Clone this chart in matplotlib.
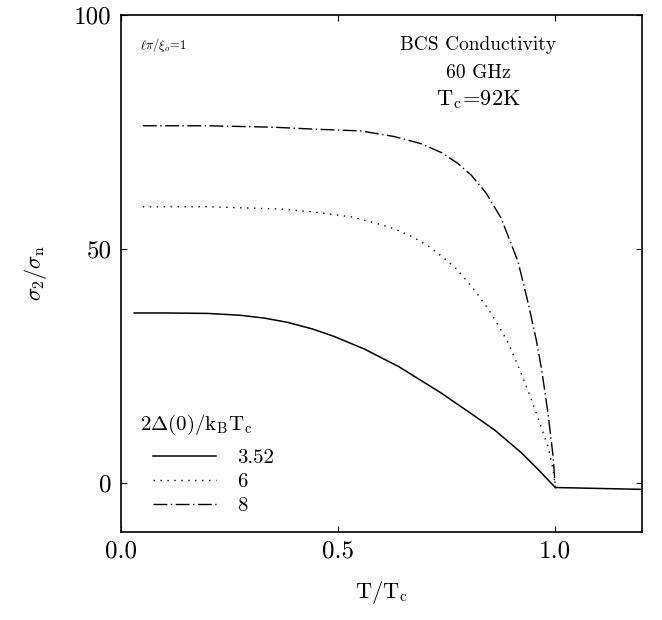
import matplotlib
matplotlib.use("Agg")
from matplotlib import pyplot as plt

# sigma_2 / sigma_n vs reduced temperature
t_352 = [0.03, 0.10, 0.20, 0.275, 0.33, 0.383, 0.44, 0.49, 0.56, 0.64, 0.737, 0.806, 0.837, 0.86, 0.921, 0.96, 1.0]
s_352 = [36.3, 36.3, 36.2, 35.8, 35.2, 34.3, 32.9, 31.3, 28.6, 24.8, 19.2, 14.8, 12.8, 11.3, 6.5, 2.9, -1.0]

t_6 = [0.05, 0.20, 0.37, 0.45, 0.533, 0.590, 0.629, 0.671, 0.706, 0.737, 0.768, 0.798, 0.821, 0.848,
       0.868, 0.891, 0.921, 0.945, 0.964, 0.983, 0.995, 1.0]
s_6 = [59.0, 59.0, 58.5, 57.8, 56.8, 55.4, 54.3, 52.6, 50.7, 48.5, 46.1, 43.0, 40.3, 36.8,
       33.8, 30.0, 23.5, 17.8, 12.8, 7.8, 2.8, -1.0]

t_8 = [0.05, 0.20, 0.35, 0.44, 0.552, 0.629, 0.690, 0.737, 0.775, 0.806, 0.840, 0.875, 0.914,
       0.937, 0.956, 0.968, 0.983, 0.995, 1.0]
s_8 = [76.3, 76.3, 76.0, 75.6, 75.2, 74.0, 72.5, 70.6, 68.3, 65.8, 62.0, 56.6, 47.3,
       38.6, 30.6, 24.5, 15.0, 5.6, -1.0]

# normal state above Tc
t_n = [1.0, 1.2]
s_n = [-1.0, -1.4]

labels = ["3.52", "6", "8"]

plt.rcParams['font.family'] = 'cmr10'
plt.rcParams['mathtext.fontset'] = 'cm'
plt.rcParams['axes.unicode_minus'] = False

fig = plt.figure(figsize=(6.62, 6.2), dpi=100)
ax = fig.add_axes([0.183, 0.142, 0.787, 0.834])

l1, = ax.plot(t_352, s_352, color='black', lw=1.1, ls='-')
l2, = ax.plot(t_6, s_6, color='black', lw=1.0, ls=(0, (1, 4)))
l3, = ax.plot(t_8, s_8, color='black', lw=1.0, ls=(0, (10, 2.5, 1, 2.5)))
ax.plot(t_n, s_n, color='black', lw=1.1)

ax.set_xlim(0, 1.2)
ax.set_ylim(-10.5, 100)
ax.set_xticks([0.0, 0.5, 1.0])
ax.set_xticklabels(['0.0', '0.5', '1.0'])
ax.set_yticks([0, 50, 100])
ax.tick_params(direction='in', length=4, width=0.8, labelsize=18, top=True, right=True)
ax.tick_params(axis='x', pad=6)
ax.tick_params(axis='y', pad=7)
for s in ax.spines.values():
    s.set_linewidth(1.2)

ax.set_xlabel(r'$\mathrm{T/T_c}$', fontsize=16, labelpad=12)
ax.set_ylabel(r'$\sigma_2/\sigma_\mathrm{n}$', fontsize=16, labelpad=18)

ax.text(0.036, 0.942, r'$\ell\pi/\xi_o\!=\!1$', transform=ax.transAxes, fontsize=9, ha='left', va='center')
ax.text(0.685, 0.942, 'BCS Conductivity', transform=ax.transAxes, fontsize=14, ha='center', va='center')
ax.text(0.685, 0.888, '60 GHz', transform=ax.transAxes, fontsize=14, ha='center', va='center')
ax.text(0.685, 0.836, r'$\mathrm{T_c\!=\!92K}$', transform=ax.transAxes, fontsize=16, ha='center', va='center')

ax.text(0.036, 0.207, r'$\mathrm{2\Delta(0)/k_BT_c}$', transform=ax.transAxes, fontsize=15, ha='left', va='center')
ax.legend([l1, l2, l3], labels, loc='upper left', bbox_to_anchor=(0.0614, 0.1615),
          frameon=False, fontsize=15, handlelength=3.0, handletextpad=1.05,
          labelspacing=0.27, borderpad=0, borderaxespad=0)

fig.savefig('out.png', dpi=100)
